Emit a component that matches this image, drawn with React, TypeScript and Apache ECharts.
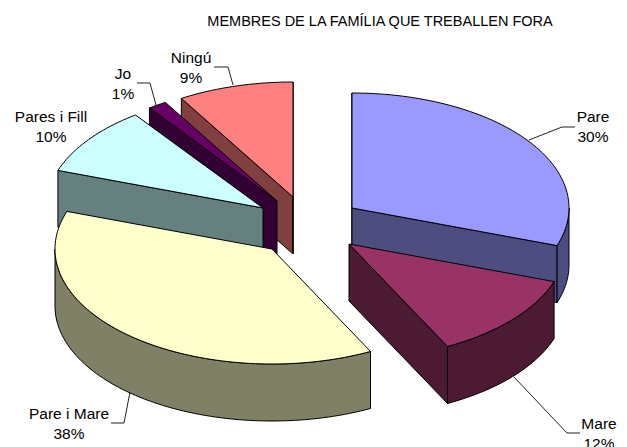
import React, { useEffect, useRef } from "react";
import * as echarts from "echarts";

const titleText = "MEMBRES DE LA FAMÍLIA QUE TREBALLEN FORA";
const categories = ["Pare", "Mare", "Pare i Mare", "Pares i Fill", "Jo", "Ningú"];
const shares = [30.3, 12.2, 37.8, 9.7, 1.4, 8.6];

// Styling and layout, kept apart from the data
const topColors = ["#9999FF", "#993366", "#FFFFCC", "#CCFFFF", "#660066", "#FF8080"];
const sideColors = ["#4D4D80", "#4D1A33", "#808066", "#668080", "#330033", "#804040"];
const explodedCenters = [[352, 208], [349, 244], [272, 249], [263, 208], [277, 201], [293, 197]];
const labelCenters = [[593, 126.5], [599, 433], [69, 423], [51, 126], [123, 83], [191, 67]];
const leaders: (number[][] | null)[] = [
  [[529, 140], [562, 127], [575, 127]],
  [[514, 377], [567, 433], [580, 433]],
  [[130, 392], [124, 423], [111, 423]],
  null,
  [[156, 105], [150, 83], [137, 83]],
  [[233, 85], [228, 67], [214, 67]],
];
const paintOrder = [0, 5, 4, 3, 2, 1];
const RX = 217;
const RY = 115;
const DEPTH = 57;
const FONT = "Liberation Sans";

const total = shares.reduce((a, b) => a + b, 0);

function sliceAngles(i: number) {
  let start = 0;
  for (let k = 0; k < i; k++) start += (shares[k] / total) * 360;
  return [start, start + (shares[i] / total) * 360];
}

function pt(c: number[], deg: number, dy = 0) {
  const r = (deg * Math.PI) / 180;
  return [c[0] + RX * Math.sin(r), c[1] - RY * Math.cos(r) + dy];
}

function arc(c: number[], a: number, b: number, dy = 0) {
  const n = Math.max(2, Math.ceil(Math.abs(b - a) / 1.5));
  const out: number[][] = [];
  for (let i = 0; i <= n; i++) out.push(pt(c, a + ((b - a) * i) / n, dy));
  return out;
}

function facesOf(i: number) {
  const c = explodedCenters[i];
  const [a, b] = sliceAngles(i);
  const poly = (points: number[][], fill: string) => ({
    type: "polygon",
    silent: true,
    shape: { points },
    style: { fill, stroke: "#000", lineWidth: 1, lineJoin: "round" },
  });
  const faces: any[] = [];
  const radial = (deg: number, normal: number) => {
    if (Math.cos((normal * Math.PI) / 180) > 1e-9) return;
    const p = pt(c, deg);
    faces.push(poly([c, p, [p[0], p[1] + DEPTH], [c[0], c[1] + DEPTH]], sideColors[i]));
  };
  radial(a, a - 90);
  radial(b, b + 90);
  const from = Math.max(a, 90);
  const to = Math.min(b, 270);
  if (to > from) {
    const upper = arc(c, from, to);
    const lower = arc(c, to, from, DEPTH);
    faces.push(poly(upper.concat(lower), sideColors[i]));
  }
  faces.push(poly([c, ...arc(c, a, b)], topColors[i]));
  return faces;
}

export default function App() {
  const ref = useRef<HTMLDivElement>(null);
  useEffect(() => {
    const chart = echarts.init(ref.current!, null, { renderer: "svg" });
    chart.setOption({
      animation: false,
      backgroundColor: "#fff",
      title: {
        text: titleText,
        left: 380,
        top: 13,
        textAlign: "center",
        textStyle: { fontFamily: FONT, fontSize: 14.5, fontWeight: "normal", color: "#000" },
        padding: [0, 0, 0, 0],
      },
      graphic: [],
      series: [
        {
          type: "custom",
          coordinateSystem: "none",
          silent: true,
          clip: false,
          data: paintOrder,
          renderItem: (params: any) => ({
            type: "group",
            children: facesOf(paintOrder[params.dataIndex]),
          }),
        },
        {
          type: "custom",
          coordinateSystem: "none",
          silent: true,
          z: 5,
          data: categories.map((_, i) => i),
          renderItem: (params: any) => {
            const i = params.dataIndex;
            const children: any[] = [
              {
                type: "text",
                silent: true,
                x: labelCenters[i][0],
                y: labelCenters[i][1],
                style: {
                  text: `${categories[i]}\n${Math.round((shares[i] / total) * 100)}%`,
                  fontFamily: FONT,
                  fontSize: 15.5,
                  lineHeight: 20,
                  fill: "#000",
                  align: "center",
                  verticalAlign: "middle",
                },
              },
            ];
            const leader = leaders[i];
            if (leader) {
              children.push({
                type: "polyline",
                silent: true,
                shape: { points: leader },
                style: { fill: "none", stroke: "#222", lineWidth: 1 },
              });
            }
            return { type: "group", children };
          },
        },
      ],
    });
    return () => chart.dispose();
  }, []);
  return (
    <div
      ref={ref}
      style={{ position: "absolute", left: 0, top: 0, width: 627, height: 447, overflow: "hidden" }}
    />
  );
}
